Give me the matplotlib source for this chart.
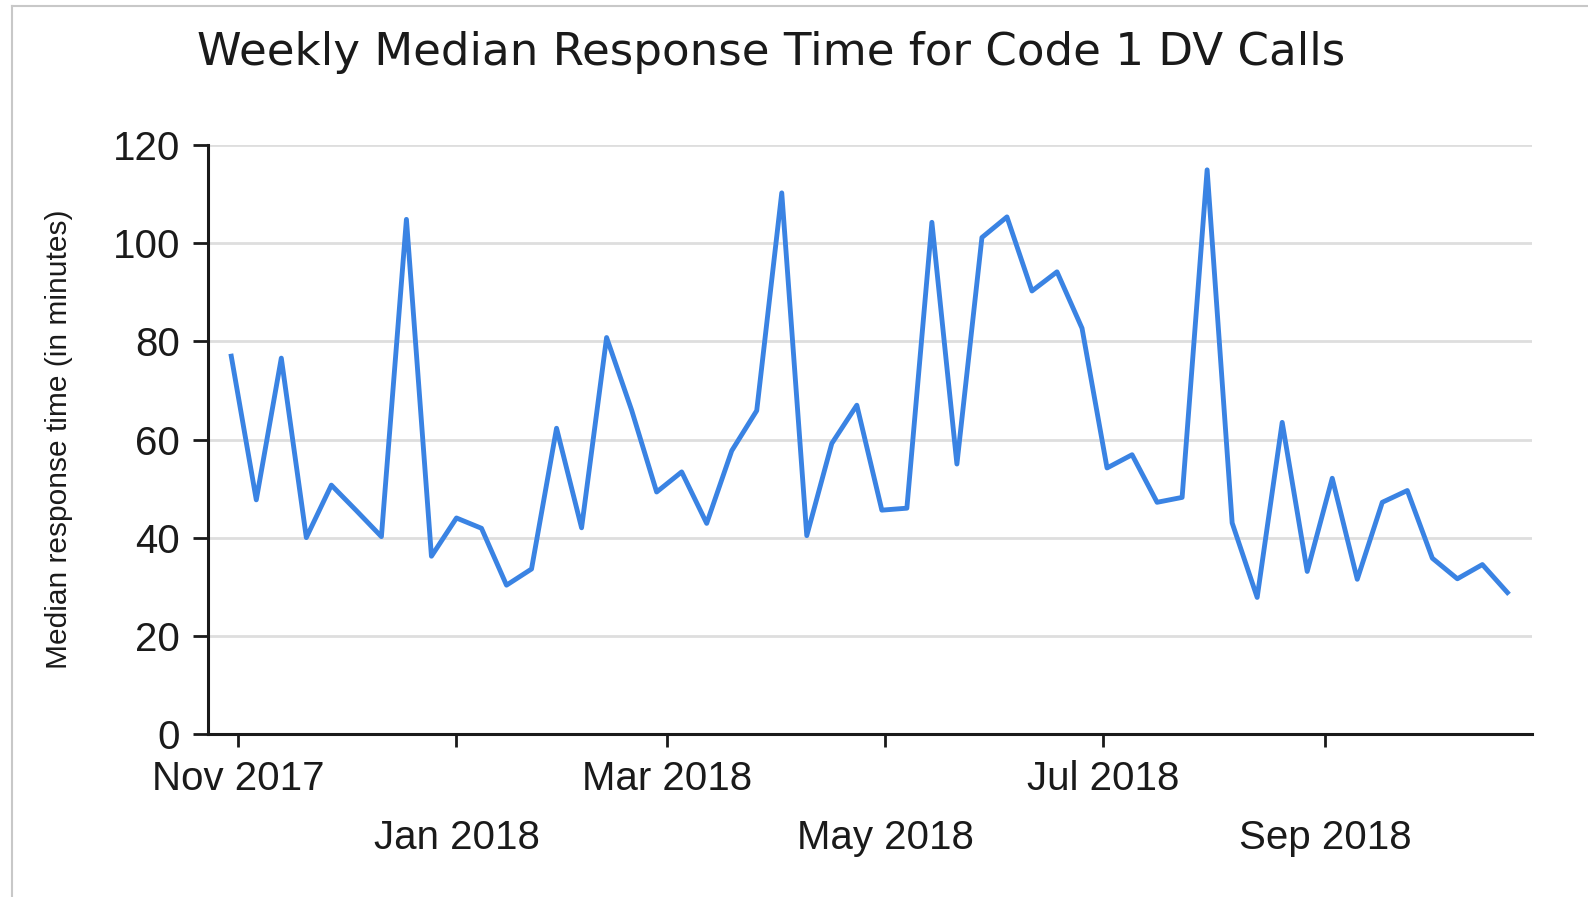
import matplotlib
matplotlib.use("Agg")
import matplotlib.pyplot as plt
from matplotlib import font_manager
from matplotlib.lines import Line2D
import pandas as pd

# weekly medians, weeks starting Mon 30 Oct 2017
week_start = "2017-10-30"
median_minutes = [77, 47.7, 76.6, 40, 50.7, 45.5, 40.2, 104.9, 36.2, 44, 41.9,
                  30.3, 33.6, 62.3, 42, 80.8, 66, 49.3, 53.4, 42.9, 57.7, 65.9,
                  110.3, 40.4, 59.2, 67, 45.6, 46, 104.3, 55, 101.2, 105.4,
                  90.3, 94.2, 82.7, 54.2, 56.9, 47.2, 48.2, 115, 43, 27.8,
                  63.5, 33.1, 52.1, 31.5, 47.2, 49.6, 35.8, 31.6, 34.5, 28.8]
weeks = pd.date_range(week_start, periods=len(median_minutes), freq="7D")

tick_dates = pd.to_datetime(["2017-11-01", "2018-01-01", "2018-03-01",
                             "2018-05-01", "2018-07-01", "2018-09-01"])
tick_labels = ["Nov 2017", "\nJan 2018", "Mar 2018",
               "\nMay 2018", "Jul 2018", "\nSep 2018"]
y_ticks = [0, 20, 40, 60, 80, 100, 120]

names = {f.name for f in font_manager.fontManager.ttflist}
if "Liberation Sans Narrow" in names:
    ylab_font, ylab_size = "Liberation Sans Narrow", 25.5
else:
    ylab_font, ylab_size = "Liberation Sans", 21.5

plt.rcParams['font.family'] = ['Liberation Sans', 'DejaVu Sans']

fig = plt.figure(figsize=(15.88, 8.97), dpi=100)
ax = fig.add_axes([0.131, 0.182, 0.834, 0.656])

ax.plot(weeks, median_minutes, color='#3a83e3', lw=3.5, solid_joinstyle='round')

ax.set_ylim(0, 120)
ax.set_xlim(pd.Timestamp("2017-10-23 12:00"), pd.Timestamp("2018-10-29"))
ax.set_yticks(y_ticks)
ax.set_xticks(tick_dates)
ax.set_xticklabels(tick_labels)
ax.tick_params(axis='both', labelsize=29, colors='#1a1a1a', width=2)
ax.tick_params(axis='y', length=11, pad=9)
ax.tick_params(axis='x', length=9, pad=10)
for t in ax.get_xticklabels():
    t.set_linespacing(1.7)

ax.grid(axis='y', color='#dedede', lw=2)
ax.set_axisbelow(True)
for s in ['top', 'right']:
    ax.spines[s].set_visible(False)
for s in ['left', 'bottom']:
    ax.spines[s].set_color('#1a1a1a')
    ax.spines[s].set_linewidth(2.2)

ax.set_ylabel("Median response time (in minutes)", fontsize=ylab_size,
              family=ylab_font, color='#1a1a1a', labelpad=0)
ax.yaxis.set_label_coords(-0.102, 0.5)

fig.text(0.4855, 0.941, "Weekly Median Response Time for Code 1 DV Calls",
         ha='center', va='center', fontsize=32.5, family='DejaVu Sans',
         color='#1a1a1a')

# light frame of the original screenshot (left and top edges)
fig.add_artist(Line2D([12 / 1588, 12 / 1588], [0, 1 - 6 / 897],
                      transform=fig.transFigure, color='#c8c8c8', lw=1.5))
fig.add_artist(Line2D([12 / 1588, 1], [1 - 6 / 897, 1 - 6 / 897],
                      transform=fig.transFigure, color='#c8c8c8', lw=1.5))

fig.savefig("out.png", dpi=100)
